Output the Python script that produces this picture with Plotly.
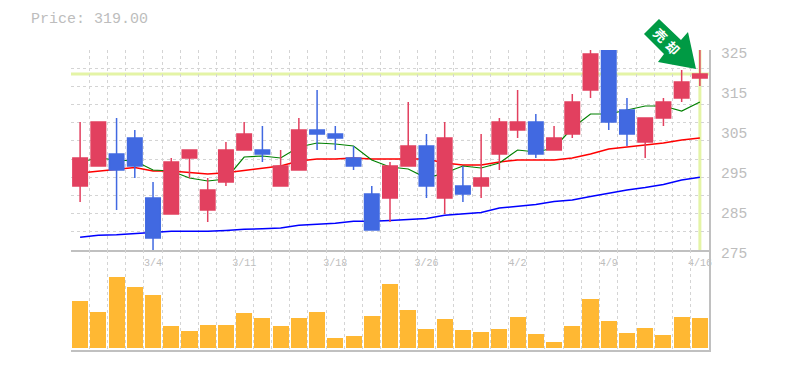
import plotly.graph_objects as go

open_ = [291,296,299,303,288,284,298,285,292,300,300,291,295,305,304,298,289,288,296,301,288,291,291,299,305,307,300,304,315,326,310,302,308,313,318]
close = [298,307,295,296,278,297,300,290,300,304,299,296,305,304,303,296,280,296,301,291,303,289,293,307,307,299,303,312,324,307,304,308,312,317,319]
high  = [307,307,308,305,292,298,300,293,302,307,306,300,308,315,306,301,291,297,312,304,307,296,304,308,315,309,306,314,326,326,313,308,313,320,326]
low   = [287,296,285,293,275,284,293,282,291,300,297,291,295,300,300,295,280,282,296,288,284,287,288,295,303,298,300,303,313,305,301,298,306,312,316]
ma_green = [297,298,297.5,297.25,295,294.75,293,292.25,292.75,298.25,298.5,298,300.75,301.75,301.5,301,297.5,295.75,295.25,293,294.25,296,295.5,296.75,300,299.5,300.5,305.5,309,309,310,311,311,309.75,312]
ma_red = [294.25,294.75,295.25,295.6,294.75,294.75,294.4,294,294.3,294.9,295.5,296,297.25,297.75,297.75,298,297.75,297.75,297.75,297.75,296.75,296.25,296.25,297,297.5,297.5,297.5,298,299,300.25,300.75,301.25,301.75,302.5,303]
ma_blue = [278.2,278.7,278.8,279.1,279.25,279.7,279.7,279.7,279.9,280.2,280.3,280.5,281.2,281.4,281.7,282.2,282.2,282.4,282.7,282.9,283.7,284,284.4,285.5,286,286.4,287.1,287.5,288.4,289.25,290,290.6,291.4,292.5,293.2]
volume = [47,36,71,61,53,22,17,23,23,35,30,22,30,36,10,12,32,64,38,19,29,18,16,19,31,14,6,22,49,27,15,20,13,31,30]
date_idx = [4,9,14,19,24,29,34]
date_labels = ["3/4","3/11","3/18","3/26","4/2","4/9","4/16"]
price_ticks = [325,315,305,295,285,275]
last_price = 319.00

x = list(range(len(close)))
W, H = 785, 370
L, R, T, B = 71, 76, 50, 20
GRID = "#d4d4d4"
AXIS = "#c0c0c0"
TXT = "#bdbdbd"
MONO = "Liberation Mono"
RED = "#e2405f"
BLUE = "#4169e1"

def px(v): return (v - L) / (W - L - R)
def py(v): return (H - B - v) / (H - T - B)

edges = [i - 0.5 for i in range(len(x) + 1)]
hgrid = [275 + 50 / 11 * i for i in range(12)]
xrange_ = [-0.5, len(x) - 0.5]
minor_x = dict(tickmode="array", tickvals=edges, showgrid=True, griddash="3px,3px", gridcolor=GRID, gridwidth=1, ticks="")

fig = go.Figure()
for vals, col, w in [(ma_blue, "#0000ff", 1.5), (ma_red, "#ff0000", 1.5), (ma_green, "#008000", 1.2)]:
    fig.add_trace(go.Scatter(x=x, y=vals, mode="lines", line=dict(color=col, width=w), xaxis="x", yaxis="y", showlegend=False))
fig.add_trace(go.Candlestick(x=x, open=open_, high=high, low=low, close=close, xaxis="x", yaxis="y3", showlegend=False,
    increasing=dict(line=dict(color=RED, width=1.5), fillcolor=RED),
    decreasing=dict(line=dict(color=BLUE, width=1.5), fillcolor=BLUE), whiskerwidth=0))
fig.add_trace(go.Bar(x=x, y=volume, width=0.88, marker=dict(color="#ffb833", line=dict(width=0)), xaxis="x2", yaxis="y2", showlegend=False))

shapes = [
    dict(type="line", xref="x", yref="y", x0=xrange_[0], x1=xrange_[1], y0=last_price, y1=last_price, line=dict(color="#e4f4a6", width=3), layer="below"),
    dict(type="line", xref="x", yref="y", x0=x[-1], x1=x[-1], y0=275, y1=325, line=dict(color="#e4f4a6", width=3), layer="below"),
]
arrow = [(659,19),(644,34),(664,54),(658,62),(696,69),(688,32),(681,40)]
path = "M " + " L ".join(f"{px(a):.5f},{py(b):.5f}" for a, b in arrow) + " Z"
shapes.append(dict(type="path", xref="paper", yref="paper", path=path, fillcolor="#009a44", line=dict(width=0), layer="above"))

ann = [dict(xref="paper", yref="y", x=px(719), y=p, yshift=-4, text=str(p), showarrow=False, xanchor="left", yanchor="middle",
            font=dict(family=MONO, size=14.6, color=TXT)) for p in price_ticks]
ann.append(dict(xref="paper", yref="paper", x=px(29), y=py(19), text=f"Price: {last_price:.2f}", showarrow=False, xanchor="left", yanchor="middle",
                font=dict(family=MONO, size=15, color=TXT)))
for ch, (a, b) in zip("売却", [(660, 35), (673, 47)]):
    ann.append(dict(xref="paper", yref="paper", x=px(a), y=py(b), text=f"<b>{ch}</b>", showarrow=False, textangle=45, xanchor="center", yanchor="middle",
                    font=dict(family="Noto Sans CJK JP", size=13, color="white")))

fig.update_layout(
    width=W, height=H, autosize=False, margin=dict(l=L, r=R, t=T, b=B, pad=0),
    paper_bgcolor="white", plot_bgcolor="white", boxgap=0.205, boxgroupgap=0, boxmode="overlay", bargap=0, showlegend=False,
    shapes=shapes, annotations=ann,
    xaxis=dict(domain=[0, 1], range=xrange_, anchor="y", tickmode="array", tickvals=date_idx, ticktext=date_labels,
               showgrid=False, minor=minor_x, zeroline=False, showline=True, linecolor=AXIS, linewidth=1.5,
               ticks="outside", ticklen=2, tickcolor="rgba(0,0,0,0)", tickfont=dict(family=MONO, size=10, color=TXT),
               rangeslider=dict(visible=False)),
    yaxis=dict(domain=[1/3, 1], range=[275, 325], anchor="x", side="right", tickmode="array", tickvals=price_ticks, showticklabels=False,
               showgrid=False, minor=dict(tickmode="array", tickvals=hgrid, showgrid=True, griddash="3px,3px", gridcolor=GRID, gridwidth=1, ticks=""),
               zeroline=False, showline=True, linecolor=AXIS, linewidth=1.5, ticks=""),
    yaxis3=dict(domain=[1/3, 1], range=[275, 325], anchor="x", overlaying="y", side="right", visible=False, showgrid=False, zeroline=False),
    xaxis2=dict(domain=[0, 1], range=xrange_, anchor="y2", showticklabels=False, showgrid=False, tickmode="array", tickvals=[],
                minor=minor_x, zeroline=False, showline=True, linecolor=AXIS, linewidth=1.5, ticks=""),
    yaxis2=dict(domain=[0, 1/3], range=[-2, 98], anchor="x2", side="right", showticklabels=False, showgrid=False, zeroline=False,
                showline=True, linecolor=AXIS, linewidth=1.5, ticks=""),
)
fig.write_html("out.html", config=dict(displayModeBar=False),
               post_script="document.body.style.margin='0';document.documentElement.style.overflow='hidden';")
